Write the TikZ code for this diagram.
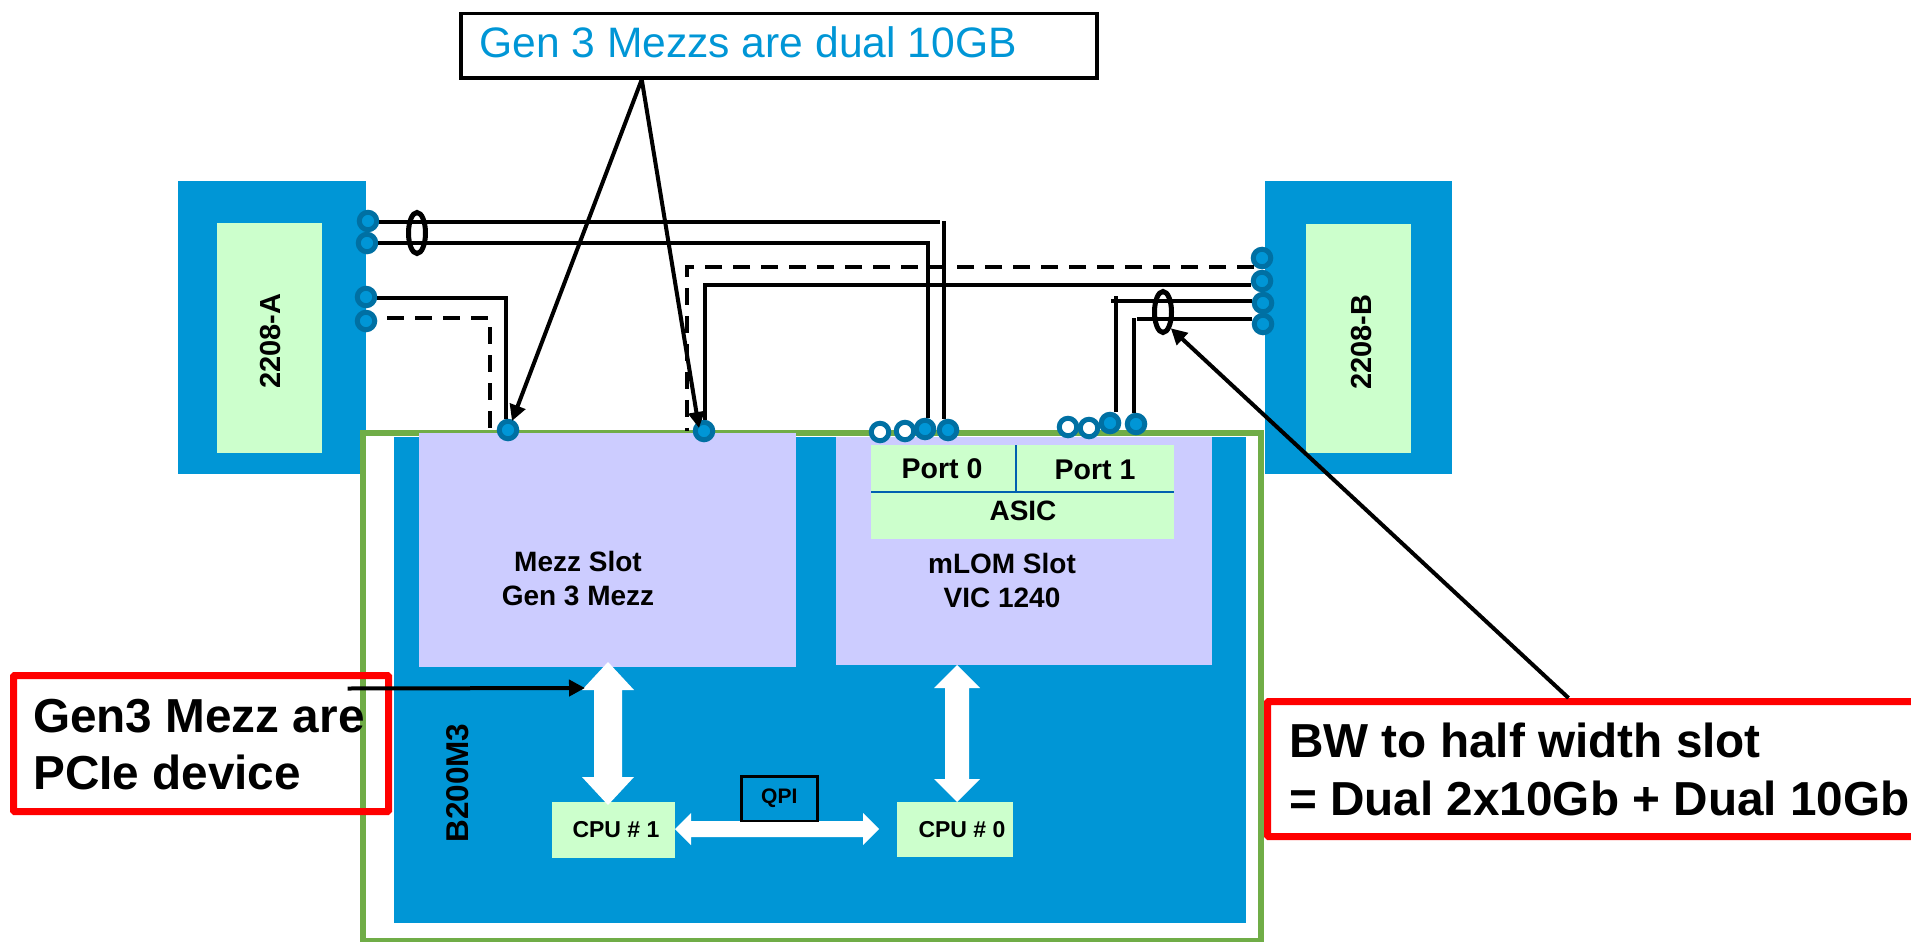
\documentclass[tikz,border=0pt]{standalone}
\usepackage{fontspec}
\setmainfont{Liberation Sans}
\usetikzlibrary{arrows.meta,positioning,calc,shapes.geometric}
\definecolor{bladeblue}{HTML}{0096D6}
\definecolor{ringblue}{HTML}{0070A3}
\definecolor{chipgreen}{HTML}{CCFFCC}
\definecolor{slotlav}{HTML}{CCCCFF}
\definecolor{framegreen}{HTML}{70AD47}
\definecolor{asicline}{HTML}{0060B0}
\tikzset{
  block/.style={fill=#1, draw=none, rectangle, inner sep=0pt, anchor=north west},
  lab/.style={font=\fontsize{#1}{#1}\selectfont\bfseries, inner sep=0pt},
  portfull/.style={circle, draw=ringblue, fill=bladeblue, line width=5pt, minimum size=17.5pt, inner sep=0pt},
  portopen/.style={portfull, fill=white},
  wire/.style={line width=3.5pt},
  wiredash/.style={line width=3.5pt, dash pattern=on 16.7pt off 11.3pt},
  bundle/.style={ellipse, draw, line width=5pt, minimum width=17pt, minimum height=41pt, inner sep=0pt},
  note/.style={-{Triangle[length=16pt,width=16pt]}, line width=4pt},
  busarrow/.style={fill=white, draw=none},
  redbox/.style={draw=red, line width=7pt, rectangle, rounded corners=1pt, inner sep=0pt, anchor=north west}
}
\begin{document}
\begin{tikzpicture}[x=1pt, y=-1pt]
  \useasboundingbox (0,0) rectangle (1911,942);
  \clip (0,0) rectangle (1911,942);
  % fabric interconnects
  \node[block=bladeblue, minimum width=188pt, minimum height=293pt] (fexA) at (178,181) {};
  \node[block=chipgreen, minimum width=105pt, minimum height=230pt] (iomA) at (217,223) {};
  \node[lab=29, rotate=90] (nameA) at (271,341) {2208-A};
  \node[block=bladeblue, minimum width=187pt, minimum height=293pt] (fexB) at (1265,181) {};
  \node[block=chipgreen, minimum width=105pt, minimum height=229pt] (iomB) at (1306,224) {};
  \node[lab=29, rotate=90] (nameB) at (1361,342) {2208-B};
  % blade
  \node[draw=framegreen, line width=6pt, rectangle, inner sep=0pt, anchor=north west, minimum width=898pt, minimum height=508pt] (blade) at (360,430) {};
  \node[block=bladeblue, minimum width=852pt, minimum height=486pt] (board) at (394,437) {};
  \node[block=slotlav, minimum width=377pt, minimum height=234pt] (mezz) at (419,433) {};
  \node[block=slotlav, minimum width=376pt, minimum height=228pt] (mlom) at (836,437) {};
  \node[block=chipgreen, minimum width=303pt, minimum height=94pt] (asic) at (871,445) {};
  \coordinate (asicsplit) at (1016,492);
  \draw[draw=asicline, line width=2pt] (asic.west |- asicsplit) -- (asic.east |- asicsplit);
  \draw[draw=asicline, line width=2pt] (asicsplit |- asic.north) -- (asicsplit);
  \node[lab=28.5] (port0) at (942,469) {Port 0};
  \node[lab=28.5] (port1) at (1095,470) {Port 1};
  \node[lab=28] (asiclab) at (1023,511) {ASIC};
  \node[lab=28, align=center] (mezzlab) at (578,579) {Mezz Slot\\[6pt]Gen 3 Mezz};
  \node[lab=28, align=center] (mlomlab) at (1002,580) {mLOM Slot\\[6pt]VIC 1240};
  \node[lab=31.5, rotate=90] (bladelab) at (458,783) {B200M3};
  \node[block=chipgreen, minimum width=123pt, minimum height=56pt] (cpuB) at (552,802) {};
  \node[block=chipgreen, minimum width=116pt, minimum height=55pt] (cpuA) at (897,802) {};
  \node[lab=23] (cpuBlab) at (616,830) {CPU \# 1};
  \node[lab=23] (cpuAlab) at (962,830) {CPU \# 0};
  % white buses
  \fill[busarrow] (608,662) -- (634,690) -- (622,690) -- (622,777) -- (634,777) -- (608,805) -- (582,777) -- (594,777) -- (594,690) -- (582,690) -- cycle;
  \fill[busarrow] (957,665) -- (980,688) -- (969,688) -- (969,779) -- (980,779) -- (957,802) -- (934,779) -- (945,779) -- (945,688) -- (934,688) -- cycle;
  \fill[busarrow] (675,829) -- (691,813) -- (691,821) -- (863,821) -- (863,813) -- (879,829) -- (863,845) -- (863,837) -- (691,837) -- (691,845) -- cycle;
  \node[draw, line width=2.5pt, minimum width=76pt, minimum height=44.5pt, anchor=north west, lab=21] (qpi) at (740,775) {QPI};
  % ports
  \foreach \nm/\px/\py in {a1/368/221, a2/367/243, a3/366/297, a4/366/321, m1/508/430, m2/704/431,
      p0c/925/429, p0d/948/430, p1c/1110/423, p1d/1136/424, b1/1262/258, b2/1262/281, b3/1263/303, b4/1263/324} {
    \node[portfull] (\nm) at (\px,\py) {};
  }
  \foreach \nm/\px/\py in {p0a/880/432, p0b/905/431, p1a/1068/427, p1b/1089/428} {
    \node[portopen] (\nm) at (\px,\py) {};
  }
  % wires from A
  \draw[wire] ([yshift=-1pt]a1.east) -- ++(561,0);
  \draw[wire] ([xshift=-4pt]p0d.north) -- ++(0,-198);
  \draw[wire] (a2.east) -- ++(549,0);
  \draw[wire] ([xshift=3pt]p0c.north) -- ++(0,-177);
  \draw[wire] ([yshift=-1pt]a3.east) -| ([xshift=-2pt]m1.north);
  \draw[wiredash] ([shift={(10pt,3pt)}]a4.east) -| ([xshift=-18pt]m1.center);
  % wires from B
  \draw[wiredash] ([yshift=-1pt]b1.south west) -| ([xshift=-17pt]m2.center);
  \draw[wire] ([yshift=-4pt]b2.west) -| ([xshift=1pt]m2.north);
  \draw[wire] ([yshift=2pt]b3.west) -- ++(-141,0);
  \draw[wire] ([xshift=6pt]p1c.north) -- ++(0,-116);
  \draw[wire] ([yshift=5pt]b4.west) -- ++(-115,0);
  \draw[wire] ([xshift=-2pt]p1d.north) -- ++(0,-95);
  \node[bundle] (bundleA) at (417,233) {};
  \node[bundle] (bundleB) at (1163,312) {};
  % callouts
  \node[draw, line width=3.5pt, minimum width=636pt, minimum height=64pt, inner sep=0pt, anchor=north west] (gen3box) at (459,12) {};
  \node[anchor=base west, inner sep=0pt, text=bladeblue, font=\fontsize{42.6}{42.6}\selectfont] (gen3lab) at (479,58) {Gen 3 Mezzs are dual 10GB};
  \draw[note] ([xshift=-137pt]gen3box.south) -- ([shift={(4pt,9pt)}]m1.center);
  \draw[note] ([xshift=-137pt]gen3box.south) -- ([shift={(-5pt,3pt)}]m2.center);
  \node[redbox, minimum width=375pt, minimum height=136pt] (pcieNote) at (10,672) {};
  \node[lab=47.7, anchor=base west] (pcie1) at (33,732) {Gen3 Mezz are};
  \node[lab=47.7, anchor=base west] (pcie2) at (33,789) {PCIe device};
  \coordinate (pcieTip) at (585,688);
  \draw[note] ([shift={(-44.5pt,-16.5pt)}]pcieNote.north east) -- (pcieTip);
  \node[redbox, minimum width=660pt, minimum height=135pt] (bwNote) at (1264,698) {};
  \node[lab=47.7, anchor=base west] (bw1) at (1289,757) {BW to half width slot};
  \node[lab=47.7, anchor=base west] (bw2) at (1289,815) {= Dual 2x10Gb + Dual 10Gb};
  \draw[note] ([xshift=-29pt]bwNote.north) -- (bundleB.south east);
\end{tikzpicture}
\end{document}
